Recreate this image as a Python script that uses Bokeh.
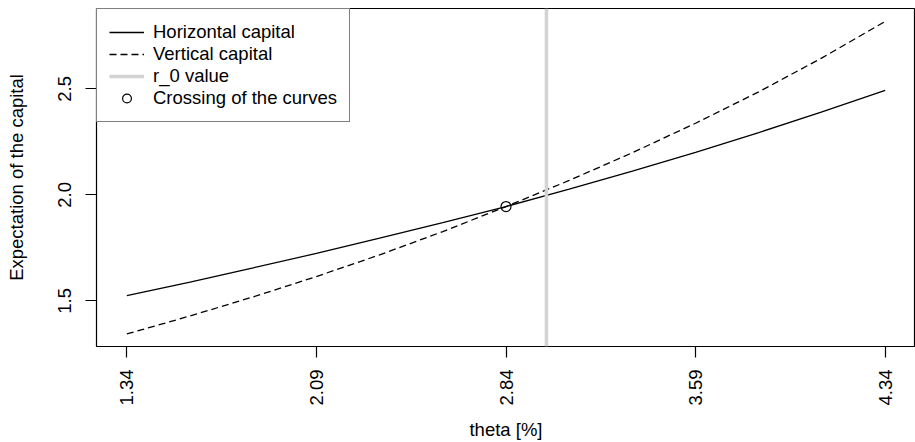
import math
from bokeh.plotting import figure
from bokeh.models import Range1d, FixedTicker, Legend, LegendItem
from bokeh.embed import file_html
from bokeh.resources import INLINE

# ---- data ----
theta = [1.34, 1.59, 1.84, 2.09, 2.34, 2.59, 2.84, 3.09, 3.34, 3.59, 3.84, 4.09, 4.34]
horizontal = [1.525, 1.589, 1.656, 1.724, 1.796, 1.869, 1.945, 2.027, 2.112, 2.201, 2.294, 2.391, 2.493]
vertical = [1.344, 1.429, 1.519, 1.615, 1.717, 1.827, 1.945, 2.068, 2.199, 2.338, 2.486, 2.646, 2.818]
r0 = 3.0
cross_x = [2.84]
cross_y = [1.945]
x_ticks = [1.34, 2.09, 2.84, 3.59, 4.34]
x_tick_labels = ["1.34", "2.09", "2.84", "3.59", "4.34"]
y_ticks = [1.5, 2.0, 2.5]
y_tick_labels = ["1.5", "2.0", "2.5"]

FONT = "Liberation Sans"
FS = "18.5px"

x_lo, x_hi = 1.22, 4.46
y_lo, y_hi = 1.285, 2.879

p = figure(width=915, height=442, output_backend="svg", toolbar_location=None,
           x_range=Range1d(x_lo, x_hi), y_range=Range1d(y_lo, y_hi),
           min_border_left=96, min_border_right=0, min_border_top=8, min_border_bottom=88)
p.xgrid.visible = False
p.ygrid.visible = False
p.outline_line_color = "black"
p.outline_line_width = 1.2
p.background_fill_color = "white"
p.border_fill_color = "white"

for ax in (p.xaxis[0], p.yaxis[0]):
    ax.axis_line_color = None
    ax.major_tick_out = 11
    ax.major_tick_in = 0
    ax.minor_tick_line_color = None
    ax.major_tick_line_color = "black"
    ax.major_tick_line_width = 1.2
    ax.major_label_text_font = FONT
    ax.major_label_text_font_size = FS
    ax.major_label_text_color = "black"
    ax.axis_label_text_font = FONT
    ax.axis_label_text_font_size = FS
    ax.axis_label_text_font_style = "normal"
    ax.axis_label_text_color = "black"

p.xaxis.major_label_orientation = math.pi / 2
p.yaxis.major_label_orientation = "vertical"

p.xaxis.ticker = FixedTicker(ticks=x_ticks)
p.xaxis.major_label_overrides = {t: l for t, l in zip(x_ticks, x_tick_labels)}
p.yaxis.ticker = FixedTicker(ticks=y_ticks)
p.yaxis.major_label_overrides = {t: l for t, l in zip(y_ticks, y_tick_labels)}
p.xaxis.axis_label = "theta [%]"
p.yaxis.axis_label = "Expectation of the capital"
p.xaxis.major_label_standoff = 12
p.xaxis.axis_label_standoff = 10
p.yaxis.major_label_standoff = 14
p.yaxis.axis_label_standoff = 29

r_h = p.line(theta, horizontal, line_color="black", line_width=1.3)
r_v = p.line(theta, vertical, line_color="black", line_width=1.3, line_dash="7 4")
r_r = p.line([r0, r0], [y_lo, y_hi], line_color="#D3D3D3", line_width=3.5)
r_c = p.scatter(cross_x, cross_y, marker="circle", size=10, fill_color=None,
                line_color="black", line_width=1.2)

legend = Legend(items=[
    LegendItem(label="Horizontal capital", renderers=[r_h]),
    LegendItem(label="Vertical capital", renderers=[r_v]),
    LegendItem(label="r_0 value", renderers=[r_r]),
    LegendItem(label="Crossing of the curves", renderers=[r_c]),
], location="top_left")
legend.margin = 0
legend.padding = 12
legend.spacing = 0
legend.glyph_width = 35
legend.glyph_height = 22
legend.label_height = 22
legend.label_standoff = 9
legend.label_text_font = FONT
legend.label_text_font_size = FS
legend.label_text_color = "black"
legend.border_line_color = "black"
legend.border_line_width = 1.2
legend.background_fill_color = "white"
legend.background_fill_alpha = 1.0
p.add_layout(legend)

open("out.html", "w").write(file_html(p, INLINE))
